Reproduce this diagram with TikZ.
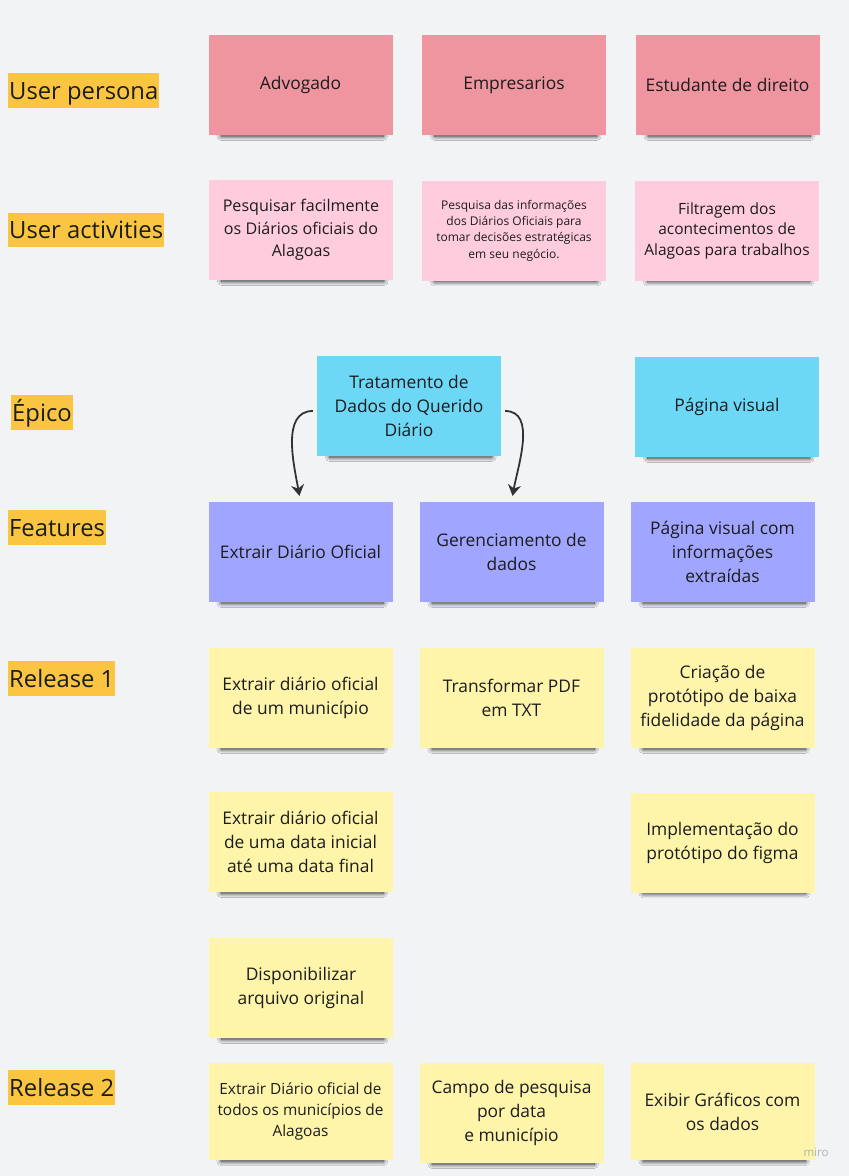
\documentclass[tikz,border=0pt]{standalone}
\usepackage{fontspec}
\setmainfont{Open Sans}
\usetikzlibrary{arrows.meta}
\usetikzlibrary{shadows,shadows.blur}
\usetikzlibrary{positioning}

\definecolor{bg}{HTML}{F2F3F5}
\definecolor{ink}{HTML}{1C1C1E}
\definecolor{hl}{HTML}{FAC540}
\definecolor{persona}{HTML}{EF959F}
\definecolor{activity}{HTML}{FFCCDD}
\definecolor{epic}{HTML}{6DD7F6}
\definecolor{feature}{HTML}{A0A6FF}
\definecolor{release}{HTML}{FEF5AA}
\definecolor{arrowgray}{HTML}{333333}

\begin{document}
\begin{tikzpicture}[x=1pt, y=-1pt,
  note/.style={fill=#1, minimum width=184pt, minimum height=100pt, inner sep=0pt,
    align=center, text=ink, font=\fontsize{17.4}{24}\selectfont,
    blur shadow={shadow xshift=2pt, shadow yshift=-8pt, shadow scale=0.88,
      shadow blur radius=5pt, shadow blur steps=24, shadow opacity=85}},
  tag/.style={fill=hl, anchor=west, text=ink, inner xsep=1pt, inner ysep=1.3pt,
    text height=24.5pt, text depth=7pt, font=\fontsize{23.8}{28}\selectfont},
  arr/.style={draw=arrowgray, line width=1.8pt, -{Stealth[length=11pt, width=13pt]},
    shorten <=4pt, shorten >=6pt}]

 \fill[bg] (0,0) rectangle (849,1176);
 \useasboundingbox (0,0) rectangle (849,1176);

 %row labels
 \node[tag] (lpersona) at (8, 90.5) {User persona};
 \node[tag] (lactiv) at (8, 230) {User activities};
 \node[tag] (lepico) at (11, 412.5) {Épico};
 \node[tag] (lfeat) at (8, 527.5) {Features};
 \node[tag] (lrel1) at (8, 678.5) {Release 1};
 \node[tag] (lrel2) at (8, 1087.5) {Release 2};

 %user persona
 \foreach \x/\name/\txt in {300.5/adv/{Advogado}, 514/emp/{Empresarios}, 727.5/est/{Estudante de direito}} {
         \node[note=persona] (\name) at (\x, 85) {\txt};
 }

 %user activities
 \node[note=activity, font=\fontsize{16.1}{22.5}\selectfont] (act1) at (301, 230)
   {Pesquisar facilmente\\os Diários oficiais do\\Alagoas};
 \node[note=activity, font=\fontsize{12}{16.3}\selectfont] (act2) at (514, 230.5)
   {Pesquisa das informações\\dos Diários Oficiais para\\tomar decisões estratégicas\\em seu negócio.};
 \node[note=activity, font=\fontsize{15.5}{20.5}\selectfont] (act3) at (727, 230.5)
   {Filtragem dos\\acontecimentos de\\Alagoas para trabalhos};

 %epico
 \node[note=epic] (trat) at (409, 406) {Tratamento de\\Dados do Querido\\Diário};
 \node[note=epic] (pagv) at (727, 407) {Página visual};

 %features
 \foreach \x/\name/\txt in {300.5/extr/{Extrair Diário Oficial}, 511.5/ger/{Gerenciamento de\\dados},
                            722.5/pagf/{Página visual com\\informações\\extraídas}} {
         \node[note=feature] (\name) at (\x, 552) {\txt};
 }

 %arrow
 \draw[arr] ([yshift=-5pt]trat.west) to[out=180, in=100] (extr.north);
 \draw[arr] ([yshift=-5pt]trat.east) to[out=0, in=80] (ger.north);

 %release 1
 \foreach \x/\y/\name/\txt in {300.5/698/ra1/{Extrair diário oficial\\de um município},
                               511.5/698/ra2/{Transformar PDF\\em TXT},
                               722.5/698/ra3/{Criação de\\protótipo de baixa\\fidelidade da página},
                               300.5/842/rb1/{Extrair diário oficial\\de uma data inicial\\até uma data final},
                               722.5/842.5/rb3/{Implementação do\\protótipo do figma},
                               301/988/rc1/{Disponibilizar\\arquivo original}} {
         \node[note=release] (\name) at (\x, \y) {\txt};
 }

 %release 2
 \node[note=release, minimum height=97pt, font=\fontsize{15.4}{21}\selectfont] (rd1) at (300.5, 1111.5)
   {Extrair Diário oficial de\\todos os municípios de\\Alagoas};
 \node[note=release] (rd2) at (511.5, 1113) {Campo de pesquisa\\por data\\e município};
 \node[note=release, minimum height=97pt] (rd3) at (722.5, 1111.5) {Exibir Gráficos com\\os dados};

 \node[text=black!30, font=\fontsize{11.5}{13}\selectfont] (miro) at (816, 1152) {miro};

\end{tikzpicture}
\end{document}
